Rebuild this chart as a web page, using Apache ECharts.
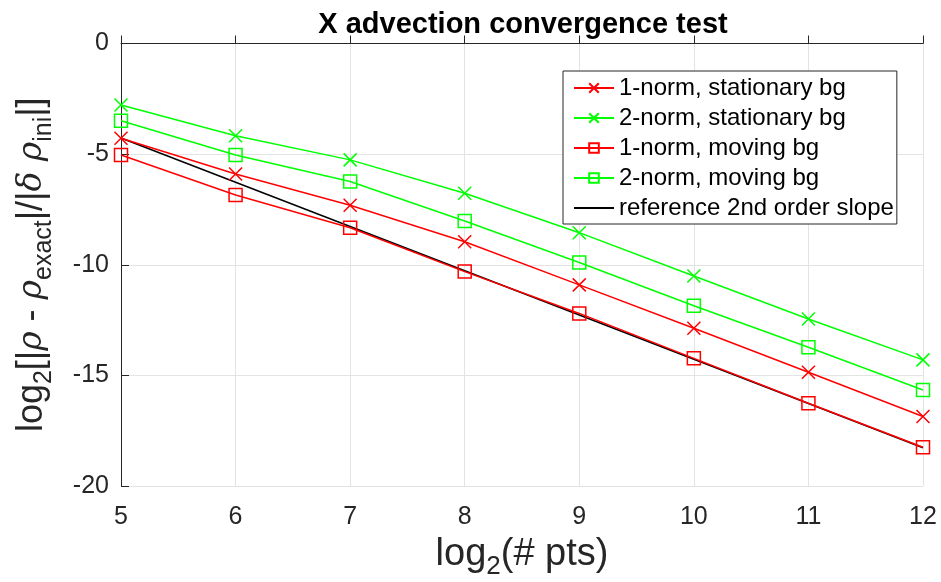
<!DOCTYPE html>
<html>
<head>
<meta charset="utf-8">
<script src="https://cdn.jsdelivr.net/npm/echarts@6/dist/echarts.min.js"></script>
<style>
html,body{margin:0;padding:0;background:#fff;}
#c{width:941px;height:582px;}
</style>
</head>
<body>
<div id="c"></div>
<script>
const xPts = [5, 6, 7, 8, 9, 10, 11, 12];
const norm1Stationary = [-4.28, -5.90, -7.31, -8.96, -10.91, -12.87, -14.86, -16.86];
const norm2Stationary = [-2.78, -4.17, -5.26, -6.77, -8.55, -10.51, -12.45, -14.30];
const norm1Moving = [-5.04, -6.85, -8.33, -10.31, -12.20, -14.23, -16.26, -18.25];
const norm2Moving = [-3.49, -5.04, -6.24, -8.02, -9.90, -11.85, -13.73, -15.66];
const refX = [5, 12];
const refY = [-4.27, -18.27];
const seriesNames = ['1-norm, stationary bg', '2-norm, stationary bg', '1-norm, moving bg', '2-norm, moving bg', 'reference 2nd order slope'];
const xTicks = [5, 6, 7, 8, 9, 10, 11, 12];
const yTicks = [-20, -15, -10, -5, 0];

const RED = '#ff0000', GREEN = '#00ff00';
const XSYM = 'path://M0,0L10,10M10,0L0,10';
const pair = (xs, ys) => xs.map((x, i) => [x, ys[i]]);
function mk(name, ys, color, sym) {
  return {
    name, type: 'line', data: pair(xPts, ys),
    symbol: sym === 'x' ? XSYM : 'rect', symbolSize: 13,
    lineStyle: {color, width: 1.5},
    itemStyle: {color: sym === 'x' ? color : 'rgba(255,255,255,0)', borderColor: color, borderWidth: 1.5},
    emphasis: {disabled: true}, animation: false, z: 3
  };
}
const chart = echarts.init(document.getElementById('c'), null, {renderer: 'canvas'});
const axisCol = '#262626';
const legendData = seriesNames.map((n, i) => i === 4
  ? {name: n, itemStyle: {color: 'rgba(0,0,0,0)', borderWidth: 0, opacity: 0}}
  : {name: n});
chart.setOption({
  animation: false,
  backgroundColor: '#ffffff',
  title: {
    text: 'X advection convergence test', left: 518, top: 5, textAlign: 'center',
    textStyle: {fontFamily: 'Liberation Sans', fontWeight: 'bold', fontSize: 29, color: '#000'}
  },
  grid: {left: 121, right: 18, top: 43.5, bottom: 96, containLabel: false, outerBoundsMode: 'none'},
  legend: {
    orient: 'vertical', left: 563, top: 71,
    data: legendData,
    itemWidth: 40, itemHeight: 12, itemGap: 6, itemTextGap: 5,
    padding: [5, 3, 4, 10],
    borderColor: axisCol, borderWidth: 1, backgroundColor: '#ffffff',
    textStyle: {fontFamily: 'Liberation Sans', fontSize: 24, color: '#000', lineHeight: 23},
    selectedMode: false
  },
  xAxis: {
    type: 'value', min: 5, max: 12, interval: 1,
    name: '{n|log}{s|2}{n|(# pts)}', nameLocation: 'middle', nameGap: 44,
    nameTextStyle: {
      rich: {
        n: {fontFamily: 'Liberation Sans', fontSize: 38, color: '#262626', lineHeight: 50, verticalAlign: 'middle'},
        s: {fontFamily: 'Liberation Sans', fontSize: 26, color: '#262626', lineHeight: 26, verticalAlign: 'bottom'}
      }
    },
    axisLine: {show: true, lineStyle: {color: axisCol, width: 1}},
    axisTick: {show: true, inside: true, length: 8, lineStyle: {color: axisCol}},
    axisLabel: {fontFamily: 'Liberation Sans', fontSize: 25, color: axisCol, margin: 19, customValues: xTicks},
    splitLine: {show: true, lineStyle: {color: '#e3e3e3', width: 1}}
  },
  yAxis: {
    type: 'value', min: -20, max: 0, interval: 5,
    name: '{n|log}{s|2}{n|[|}{i|ρ}{n| - }{i|ρ}{s|exact}{n||/|}{i|δ ρ}{s|ini}{n||]}',
    nameLocation: 'middle', nameGap: 64, nameRotate: 90,
    nameTextStyle: {
      rich: {
        n: {fontFamily: 'Liberation Sans', fontSize: 36, color: '#262626', lineHeight: 50, verticalAlign: 'middle'},
        i: {fontFamily: 'DejaVu Serif', fontStyle: 'italic', fontSize: 33, color: '#262626', lineHeight: 50, verticalAlign: 'middle'},
        s: {fontFamily: 'Liberation Sans', fontSize: 25, color: '#262626', lineHeight: 25, verticalAlign: 'bottom'}
      }
    },
    axisLine: {show: true, onZero: false, lineStyle: {color: axisCol, width: 1}},
    axisTick: {show: true, inside: true, length: 8, lineStyle: {color: axisCol}},
    axisLabel: {fontFamily: 'Liberation Sans', fontSize: 25, color: axisCol, margin: 12, customValues: yTicks},
    splitLine: {show: true, lineStyle: {color: '#e3e3e3', width: 1}}
  },
  series: [
    mk(seriesNames[0], norm1Stationary, RED, 'x'),
    mk(seriesNames[1], norm2Stationary, GREEN, 'x'),
    mk(seriesNames[2], norm1Moving, RED, 'sq'),
    mk(seriesNames[3], norm2Moving, GREEN, 'sq'),
    {
      name: seriesNames[4], type: 'line', data: pair(refX, refY),
      symbol: 'none', lineStyle: {color: '#000000', width: 1.5},
      itemStyle: {color: '#000000'}, emphasis: {disabled: true}, z: 2
    }
  ]
});
</script>
</body>
</html>
